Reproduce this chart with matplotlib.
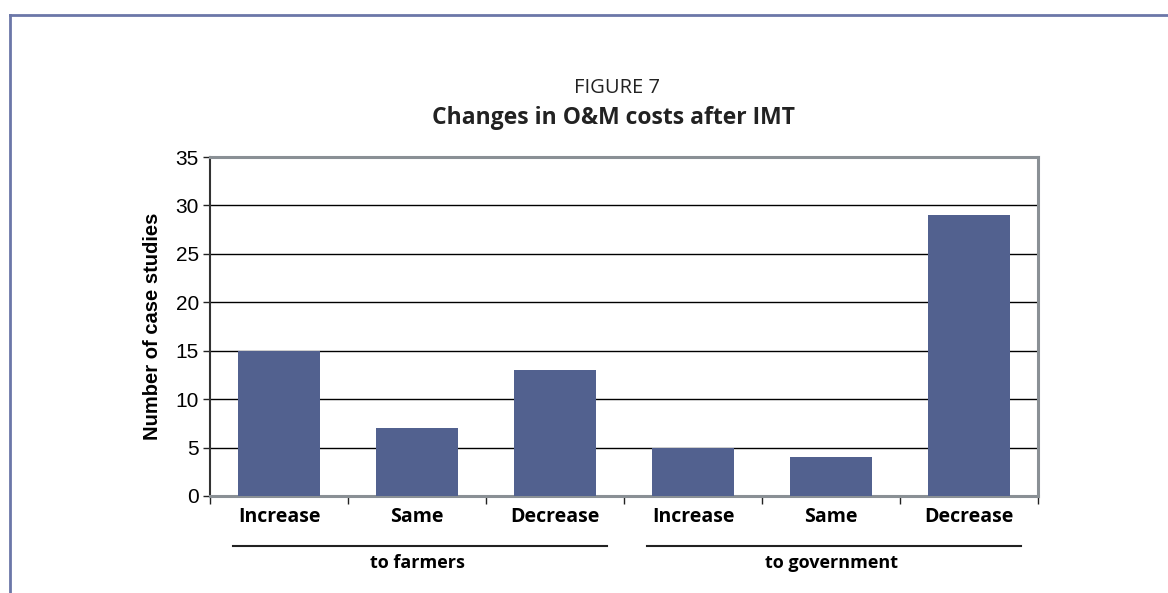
import matplotlib.pyplot as plt
from matplotlib.lines import Line2D

# Data
categories = ["Increase", "Same", "Decrease", "Increase", "Same", "Decrease"]
values = [15, 7, 13, 5, 4, 29]
groups = ["to farmers", "to government"]
y_ticks = [0, 5, 10, 15, 20, 25, 30, 35]

bar_color = '#52618f'
label_font = ['Open Sans', 'DejaVu Sans']

fig = plt.figure(figsize=(11.68, 5.93), dpi=100)
ax = fig.add_axes([0.1798, 0.1636, 0.7089, 0.5716])

x = list(range(len(categories)))
ax.bar(x, values, width=0.6, color=bar_color, zorder=3)

ax.set_xlim(-0.5, len(categories) - 0.5)
ax.set_ylim(0, 35)
ax.set_yticks(y_ticks)
ax.set_yticklabels([str(t) for t in y_ticks], fontsize=15, family='Liberation Sans')
ax.yaxis.grid(True, color='black', linewidth=1.0, zorder=1)
ax.set_axisbelow(True)

# category ticks at slot boundaries, labels centred on bars
ax.set_xticks([i - 0.5 for i in range(len(categories) + 1)])
ax.set_xticklabels([])
ax.set_xticks(x, minor=True)
ax.set_xticklabels(categories, minor=True, fontsize=14, fontweight='bold', family=label_font)
ax.tick_params(axis='x', which='minor', length=0, pad=8)
ax.tick_params(axis='x', which='major', length=6, width=1, color='#222222')
ax.tick_params(axis='y', length=5, width=1, color='#222222', pad=3)

for side in ['top', 'right', 'bottom']:
    ax.spines[side].set_color('#8a9095')
    ax.spines[side].set_linewidth(2.2)
ax.spines['left'].set_color('#333333')
ax.spines['left'].set_linewidth(1.5)

ax.set_ylabel('Number of case studies', fontsize=14.5, fontweight='bold',
              family='Liberation Sans', labelpad=10)

# group labels under the category labels
for gi, name in enumerate(groups):
    x0 = gi * 3 - 0.33
    x1 = gi * 3 + 2.38
    y_line = -0.147
    ax.add_line(Line2D([x0, x1], [y_line, y_line], transform=ax.get_xaxis_transform(),
                       color='#222222', linewidth=1.5, clip_on=False))
    ax.text(gi * 3 + 1, -0.197, name, transform=ax.get_xaxis_transform(),
            ha='center', va='center', fontsize=13, fontweight='bold', family=label_font)

# titles
fig.text(0.528, 0.851, 'FIGURE 7', ha='center', va='center', fontsize=14.5, family=label_font,
         color='#222222')
fig.text(0.525, 0.801, 'Changes in O&M costs after IMT', ha='center', va='center',
         fontsize=16.5, fontweight='bold', family=label_font, color='#222222')

# frame of the figure box (left and top only)
frame_color = '#6b77a8'
fig.add_artist(Line2D([0.0086, 0.0086], [0.0, 0.9747], transform=fig.transFigure,
                      color=frame_color, linewidth=2))
fig.add_artist(Line2D([0.0086, 1.0], [0.9747, 0.9747], transform=fig.transFigure,
                      color=frame_color, linewidth=2))

plt.savefig('out.png', dpi=100)
